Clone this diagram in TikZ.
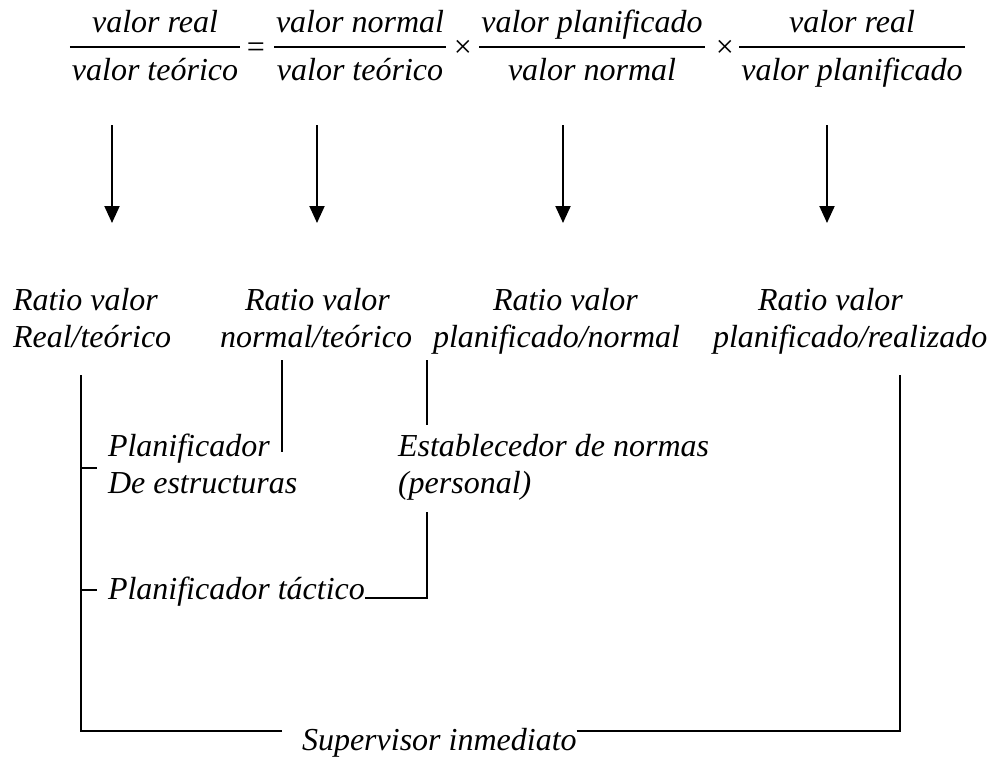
\documentclass[tikz,border=0pt]{standalone}
\usepackage{fontspec}
\setmainfont{Liberation Serif}
\usetikzlibrary{arrows.meta,fit}

\begin{document}
\begin{tikzpicture}[x=1pt,y=-1pt,
  every node/.style={inner sep=0pt,outer sep=0pt},
  txt/.style={font=\fontsize{32}{37}\selectfont\itshape,align=left,anchor=base west},
  term/.style={font=\fontsize{32}{37}\selectfont\itshape,anchor=base},
  sym/.style={font=\fontsize{32}{37}\selectfont,anchor=base},
  arr/.style={line width=2pt,-{Triangle[width=15pt,length=17pt]}},
  wire/.style={line width=2pt},
  bar/.style={line width=1.6pt}]
\useasboundingbox (0,0) rectangle (995,760);

% the ratio identity: numerators, denominators and fraction bars
\foreach \i/\x/\num/\den in {1/155/valor real/valor teórico,
                             2/360/valor normal/valor teórico,
                             3/592/valor planificado/valor normal,
                             4/852/valor real/valor planificado}{
  \node[term] (n\i) at (\x,33) {\num};
  \node[term] (d\i) at (\x,80) {\den};
  \node[fit=(n\i)(d\i),inner xsep=2pt] (f\i) {};
  \draw[bar] (f\i.west |- 0,47) -- (f\i.east |- 0,47);
}
\node[sym] (eq) at (256,57) {=};
\node[sym] (t1) at (463,57) {×};
\node[sym] (t2) at (725,57) {×};

% names of the four ratios (base anchor sits on the last line)
\node[txt] (r1) at (13,347)  {Ratio valor\\Real/teórico};
\node[txt] (r2) at (220,347) {\hspace*{25pt}Ratio valor\\normal/teórico};
\node[txt] (r3) at (433,347) {\hspace*{60pt}Ratio valor\\planificado/normal};
\node[txt] (r4) at (713,347) {\hspace*{45pt}Ratio valor\\planificado/realizado};

% who is responsible
\node[txt] (p1) at (108,493) {Planificador\\De estructuras};
\node[txt] (p2) at (398,493) {Establecedor de normas\\(personal)};
\node[txt] (p3) at (108,599) {Planificador táctico};
\node[txt] (p4) at (302,750) {Supervisor inmediato};

% arrows from each factor to its ratio
\foreach \i/\x in {1/112,2/317,3/563,4/827}{
  \coordinate (a\i s) at (\x,125);
  \coordinate (a\i e) at (\x,223);
  \draw[arr] (a\i s) -- (a\i e);
}

% supervisor bracket
\coordinate (s1) at (81,375);
\coordinate (s2) at (900,375);
\draw[wire] ([xshift=-20pt]p4.west |- 0,731) -- (81,731) -- (s1);
\draw[wire] (p4.east |- 0,731) -- (900,731) -- (s2);
\draw[wire] (81,468) -- (97,468);
\draw[wire] (81,590) -- (97,590);

% structure planner
\coordinate (b1) at (282,360);
\coordinate (b2) at (282,452);
\draw[wire] (b1) -- (b2);

% standards setter
\coordinate (c1) at (427,360);
\coordinate (c2) at (427,425);
\draw[wire] (c1) -- (c2);
\coordinate (c3) at (427,512);
\draw[wire] (c3) -- (427,598) -- (p3.east |- 0,598);
\end{tikzpicture}
\end{document}
